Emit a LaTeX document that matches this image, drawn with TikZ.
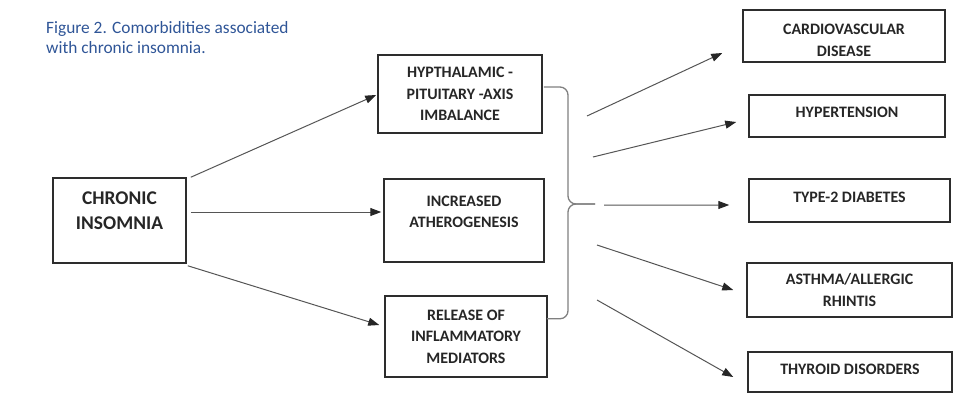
\documentclass[tikz,border=0pt]{standalone}
\usepackage{fontspec}
\setmainfont{Carlito}
\usepackage{xcolor}
\usepackage{tikz}
\usetikzlibrary{positioning, arrows.meta, calc}
\definecolor{capblue}{RGB}{47,85,151}
\definecolor{boxline}{RGB}{45,45,45}
\definecolor{arrowgray}{RGB}{85,85,85}

\begin{document}
\begin{tikzpicture}[x=1bp, y=-1bp, >={Triangle[length=11bp, width=8bp, color=black!85]},
  box/.style={draw=boxline, line width=1.5bp, align=center, text=black!85, inner sep=0pt, font=\bfseries\fontsize{16}{21.5}\selectfont},
  bigbox/.style={box, font=\bfseries\fontsize{19.5}{25}\selectfont},
  arr/.style={->, draw=arrowgray, line width=1bp},
  bracket/.style={draw=gray, line width=1.3bp, rounded corners=8bp}]
  \useasboundingbox (0,0) rectangle (958,410);

  % caption
  \node[anchor=north west, align=left, inner sep=0pt, text=capblue, font=\fontsize{17.4}{20.5}\selectfont] (caption) at (46,21) {Figure 2. Comorbidities associated\\with chronic insomnia.};

  % cause and mechanisms
  \node[bigbox, minimum width=133bp, minimum height=85bp] (insomnia) at (119.5,220.5) {CHRONIC\\INSOMNIA\\[-6bp]\mbox{}};
  \node[box, minimum width=164bp, minimum height=78bp] (hpa) at (460,94) {HYPTHALAMIC -\\PITUITARY -AXIS\\IMBALANCE};
  \node[box, minimum width=160bp, minimum height=83bp] (athero) at (464,220.5) {INCREASED\\ATHEROGENESIS\\[-4bp]\mbox{}};
  \node[box, minimum width=162bp, minimum height=81bp] (inflam) at (466,336.5) {RELEASE OF\\INFLAMMATORY\\MEDIATORS};

  % comorbidities
  \node[box, minimum width=202bp, minimum height=52bp] (cvd) at (844,36) {\mbox{}\\[-2bp]CARDIOVASCULAR\\DISEASE};
  \node[box, minimum width=196bp, minimum height=42bp, text depth=7bp] (htn) at (847,116) {HYPERTENSION};
  \node[box, minimum width=201bp, minimum height=43bp, text depth=7bp] (diabetes) at (849.5,200.5) {TYPE-2 DIABETES};
  \node[box, minimum width=205bp, minimum height=54bp] (asthma) at (849.5,290) {ASTHMA/ALLERGIC\\RHINTIS};
  \node[box, minimum width=204bp, minimum height=40bp, text depth=5bp] (thyroid) at (850,372) {THYROID DISORDERS};

  \draw[arr] ([shift={(4,0)}]insomnia.north east) -- ([shift={(-1,1)}]hpa.west);
  \draw[arr] ([shift={(4,-8.5)}]insomnia.east) -- ([shift={(-2,-8.5)}]athero.west);
  \draw[arr] ([shift={(1,2)}]insomnia.south east) -- ([shift={(-5,-11.5)}]inflam.west);

  % bracket
  \coordinate (bmid) at (568,204);
  \coordinate (btip) at (595,204);
  \draw[bracket] ([shift={(1,-7)}]hpa.east) -| (bmid) -- (btip);
  \draw[bracket] ([shift={(-1,-59)}]inflam.south east) -| (bmid) -- (btip);

  % free ends of the outgoing arrows
  \coordinate (s1) at (587,116);
  \coordinate (s2) at (593,157);
  \coordinate (s3) at (604,205);
  \coordinate (s4) at (597,245);
  \coordinate (s5) at (597,300);
  \draw[arr] (s1) -- ([shift={(-20,17)}]cvd.west);
  \draw[arr] (s2) -- ([shift={(-12,6)}]htn.west);
  \draw[arr] (s3) -- ([shift={(-19,4.5)}]diabetes.west);
  \draw[arr] (s4) -- ([shift={(-13,0)}]asthma.west);
  \draw[arr] (s5) -- ([shift={(-14,5)}]thyroid.west);
\end{tikzpicture}
\end{document}
